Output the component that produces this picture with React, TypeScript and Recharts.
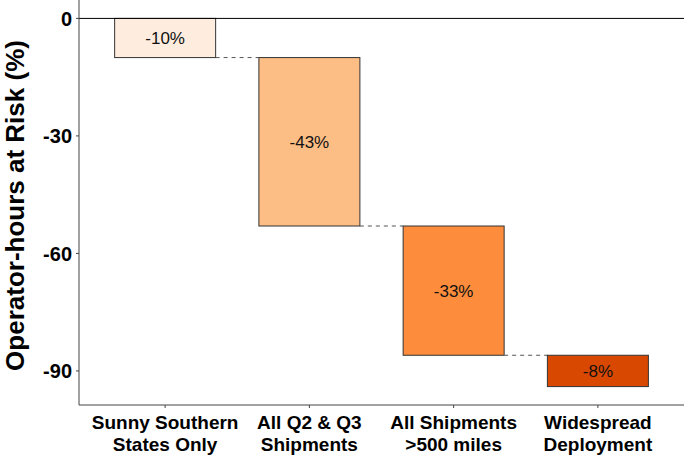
import { BarChart, Bar, XAxis, YAxis, ReferenceLine, LabelList, Label, Cell } from "recharts";

const categories = [
  "Sunny Southern\nStates Only",
  "All Q2 & Q3\nShipments",
  "All Shipments\n>500 miles",
  "Widespread\nDeployment",
];
const changes = [-10, -43, -33, -8];
const barLabels = ["-10%", "-43%", "-33%", "-8%"];
const colors = ["#FEEDDE", "#FDBE85", "#FD8D3C", "#D94801"];
const yTicks = [0, -30, -60, -90];

// running totals for the waterfall
let running = 0;
const data = categories.map((name, i) => {
  const start = running;
  running += changes[i];
  return { name, range: [start, running], label: barLabels[i] };
});

const WaterfallBar = (props: any) => {
  const { x, y, width, height, fill, index } = props;
  const top = Math.min(y, y + height);
  const h = Math.abs(height);
  const gap = (width * 3) / 7;
  return (
    <g>
      <rect x={x} y={top} width={width} height={h} fill={fill} stroke="#333" strokeWidth={1} />
      {index < data.length - 1 && (
        <line
          x1={x + width}
          x2={x + width + gap}
          y1={top + h}
          y2={top + h}
          stroke="#555"
          strokeDasharray="4 4"
        />
      )}
    </g>
  );
};

const CategoryTick = (props: any) => {
  const { x, y, payload } = props;
  const lines = String(payload.value).split("\n");
  return (
    <text x={x} y={y} textAnchor="middle" fontSize={19} fontWeight="bold" fill="#000">
      {lines.map((line: string, i: number) => (
        <tspan key={i} x={x} dy={i === 0 ? 19 : 22}>
          {line}
        </tspan>
      ))}
    </text>
  );
};

export default function App() {
  return (
    <div
      style={{
        position: "absolute",
        left: 0,
        top: 0,
        width: 685,
        height: 460,
        background: "#fff",
        fontFamily: "'Liberation Sans', Arial, Helvetica, sans-serif",
      }}
    >
      <BarChart
        width={685}
        height={460}
        data={data}
        margin={{ top: 0, right: 1, bottom: 0, left: 0 }}
        barCategoryGap="15%"
      >
        <XAxis
          dataKey="name"
          height={55}
          tick={<CategoryTick />}
          tickSize={3}
          interval={0}
          padding={{ left: 14, right: 14 }}
          axisLine={{ stroke: "#444" }}
          tickLine={{ stroke: "#444" }}
        />
        <YAxis
          type="number"
          domain={[-98.7, 4.7]}
          ticks={yTicks}
          allowDataOverflow
          width={79}
          tickSize={3}
          tickMargin={4}
          tick={{ fontSize: 20, fontWeight: "bold", fill: "#000" }}
          axisLine={{ stroke: "#444" }}
          tickLine={{ stroke: "#444" }}
        >
          <Label
            content={(p: any) => {
              const vb = p.viewBox || { y: 0, height: 405 };
              const cy = vb.y + vb.height / 2 + 3;
              return (
                <text
                  x={15}
                  y={cy}
                  transform={`rotate(-90, 15, ${cy})`}
                  textAnchor="middle"
                  dominantBaseline="central"
                  fontSize={26}
                  fontWeight="bold"
                  fill="#000"
                >
                  Operator-hours at Risk (%)
                </text>
              );
            }}
          />
        </YAxis>
        <ReferenceLine y={0} stroke="#000" strokeWidth={1} />
        <Bar dataKey="range" shape={<WaterfallBar />} isAnimationActive={false}>
          {data.map((d, i) => (
            <Cell key={d.name} fill={colors[i]} />
          ))}
          <LabelList dataKey="label" position="center" fill="#111" fontSize={17} />
        </Bar>
      </BarChart>
    </div>
  );
}
